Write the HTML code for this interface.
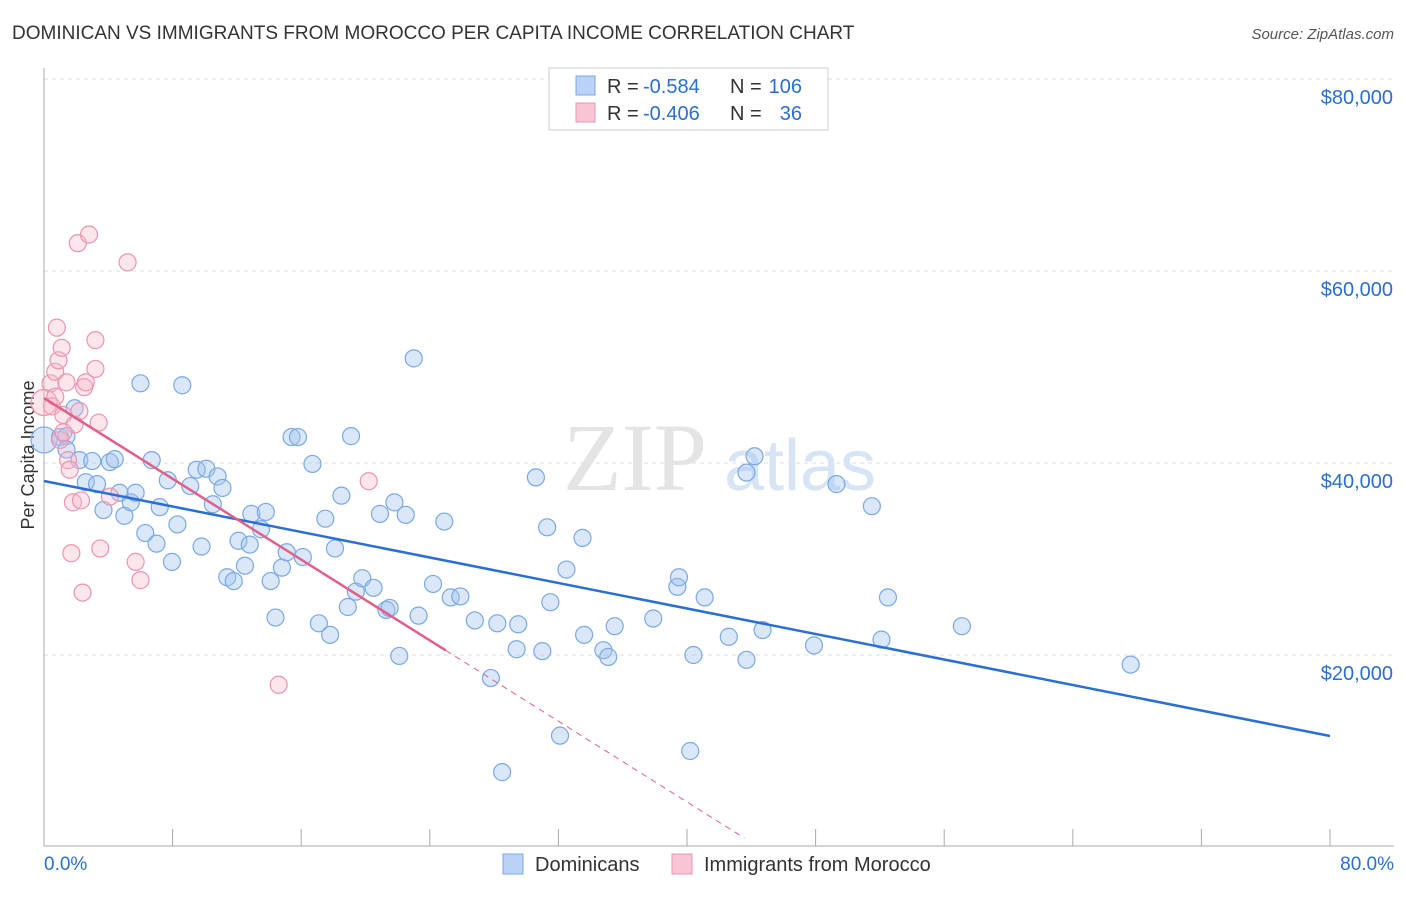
<!DOCTYPE html>
<html><head><meta charset="utf-8"><style>
body{margin:0;background:#fff;font-family:"Liberation Sans",sans-serif;}
</style></head><body>
<svg id="chart" width="1406" height="892" xmlns="http://www.w3.org/2000/svg">
<text x="12" y="39" font-size="19" fill="#333">DOMINICAN VS IMMIGRANTS FROM MOROCCO PER CAPITA INCOME CORRELATION CHART</text>
<text x="1394" y="39" font-size="15" fill="#555" font-style="italic" text-anchor="end">Source: ZipAtlas.com</text>
<g id="grid"></g>
<text x="635" y="490" font-size="96" fill="#e4e4e4" font-family="Liberation Serif" text-anchor="middle">ZIP</text>
<text x="800" y="490" font-size="72" fill="#d6e4f6" text-anchor="middle">atlas</text>
<text transform="translate(34,455) rotate(-90)" font-size="18" fill="#333" text-anchor="middle">Per Capita Income</text>
<g id="marks"></g>
<g>
<rect x="549" y="68" width="279" height="62" fill="#fff" stroke="#ccc"/>
<rect x="576" y="76" width="19" height="19" fill="#b9d2f5" stroke="#7aa8e8"/>
<text x="607" y="93" font-size="20" fill="#333">R =</text>
<text x="643" y="93" font-size="20" fill="#2a6fd6">-0.584</text>
<text x="730" y="93" font-size="20" fill="#333">N =</text>
<text x="802" y="93" font-size="20" fill="#2a6fd6" text-anchor="end">106</text>
<rect x="576" y="103" width="19" height="19" fill="#f9c4d3" stroke="#ec94ad"/>
<text x="607" y="120" font-size="20" fill="#333">R =</text>
<text x="643" y="120" font-size="20" fill="#2a6fd6">-0.406</text>
<text x="730" y="120" font-size="20" fill="#333">N =</text>
<text x="802" y="120" font-size="20" fill="#2a6fd6" text-anchor="end">36</text>
</g>
<g>
<rect x="503" y="854" width="20" height="20" fill="#b9d2f5" stroke="#7aa8e8"/>
<text x="535" y="871" font-size="20" fill="#333">Dominicans</text>
<rect x="672" y="854" width="20" height="20" fill="#f9c4d3" stroke="#ec94ad"/>
<text x="704" y="871" font-size="20" fill="#333">Immigrants from Morocco</text>
</g>
</svg>
<script>
const yTicks=[20000,40000,60000,80000];
const yTickLabels=["$20,000","$40,000","$60,000","$80,000"];
const xTickLabels=["0.0%","80.0%"];
const blueX=[0,1.0,1.4,1.4,1.9,2.2,3.0,2.6,3.3,3.7,4.1,4.4,4.7,5.0,5.4,5.7,6.0,6.3,6.7,7.0,7.2,7.7,7.96,8.3,8.6,9.1,9.5,9.8,10.1,10.5,10.8,11.1,11.4,11.8,12.1,12.5,12.8,12.9,13.5,13.8,14.1,14.4,14.8,15.1,15.4,15.8,16.1,16.7,17.1,17.5,17.8,18.1,18.5,18.9,19.1,19.4,19.8,20.5,20.9,21.3,21.5,21.8,22.1,22.5,23.0,23.3,24.2,24.9,25.3,25.9,26.8,27.8,28.2,28.5,29.4,29.5,30.6,31.0,31.3,31.5,32.1,32.5,33.5,33.6,34.8,35.1,35.5,37.9,39.4,39.5,40.2,40.4,41.1,42.6,43.7,43.7,44.2,44.7,47.9,49.3,51.5,52.1,52.5,57.1,67.6];
const blueY=[42.4,42.7,42.8,41.4,45.7,40.3,40.2,38.0,37.8,35.1,40.1,40.4,36.9,34.5,35.9,36.9,48.3,32.7,40.3,31.6,35.4,38.2,29.7,33.6,48.1,37.6,39.3,31.3,39.4,35.7,38.6,37.4,28.1,27.7,31.9,29.3,31.5,34.7,33.1,34.9,27.7,23.9,29.1,30.7,42.7,42.7,30.2,39.9,23.3,34.2,22.1,31.1,36.6,25.0,42.8,26.6,28.0,27.0,34.7,24.7,24.9,35.9,19.9,34.6,50.9,24.1,27.4,33.9,26.0,26.1,23.6,17.6,23.3,7.8,20.6,23.2,38.5,20.4,33.3,25.5,11.6,28.9,32.2,22.1,20.5,19.8,23.0,23.8,27.1,28.1,10.0,20.0,26.0,21.9,19.5,39.0,40.7,22.6,21.0,37.8,35.5,21.6,26.0,23.0,19.0];
const pinkX=[0,0.4,0.5,0.7,0.8,0.9,1.1,1.2,1.4,1.5,1.6,1.7,1.8,1.9,2.1,2.2,2.3,2.4,2.5,2.6,2.8,3.2,3.2,3.4,3.5,4.1,5.2,5.7,6.0,1.0,1.2,20.2,14.6,0.7];
const pinkY=[46.3,48.3,45.9,49.5,54.1,50.7,52.0,45.0,48.4,40.3,39.3,30.6,35.9,44.0,62.9,45.4,36.1,26.5,47.9,48.4,63.8,52.8,49.8,44.2,31.1,36.5,60.9,29.7,27.8,42.4,43.2,38.1,16.9,46.9];
const blueFit=[38125,11563];
const pinkFit=[46770,-1052];
const NS="http://www.w3.org/2000/svg";
const sx=v=>44+(v/80)*1286;
const sy=v=>847-v*192/20000;
function el(t,a,p){const e=document.createElementNS(NS,t);for(const k in a)e.setAttribute(k,a[k]);p.appendChild(e);return e;}
const grid=document.getElementById('grid');
const marks=document.getElementById('marks');
yTicks.forEach((t,i)=>{
 const l=el('line',{x1:44,y1:sy(t),x2:1394,y2:sy(t),stroke:'#ddd','stroke-dasharray':'4,4'},grid);
 
 
 const tx=el('text',{x:1393,y:sy(t)+25,'font-size':20,fill:'#2a6fd6','text-anchor':'end'},grid);
 tx.textContent=yTickLabels[i];
 
 
});
const ax=el('line',{x1:44,y1:68,x2:44,y2:846,stroke:'#aaa'},grid);


const bx=el('line',{x1:44,y1:846,x2:1394,y2:846,stroke:'#aaa'},grid);


for(let i=0;i<=10;i++){const tk=el('line',{x1:sx(i*8),y1:829,x2:sx(i*8),y2:846,stroke:'#aaa'},grid);
 
 }
const xl0=el('text',{x:44,y:870,'font-size':19,fill:'#2a6fd6'},grid);xl0.textContent=xTickLabels[0];


const xl1=el('text',{x:1394,y:870,'font-size':19,fill:'#2a6fd6','text-anchor':'end'},grid);xl1.textContent=xTickLabels[1];


blueX.forEach((x,i)=>{const c=el('circle',{cx:sx(x),cy:sy(blueY[i]*1000),r:i==0?13:8.5,fill:'rgba(160,195,240,0.4)',stroke:'#7aa8e8','stroke-width':1.2},marks);
 
 });
pinkX.forEach((x,i)=>{const c=el('circle',{cx:sx(x),cy:sy(pinkY[i]*1000),r:i==0?13:8.5,fill:'rgba(248,180,200,0.35)',stroke:'#ec94ad','stroke-width':1.2},marks);
 
 });
const bl=el('line',{x1:sx(0),y1:sy(blueFit[0]),x2:sx(80),y2:sy(blueFit[1]),stroke:'#2a6fd6','stroke-width':2.5},marks);


const pe=25;
const pl=el('line',{x1:sx(0),y1:sy(pinkFit[0]),x2:sx(pe),y2:sy(pinkFit[0]+pinkFit[1]*pe),stroke:'#e0608a','stroke-width':2.5},marks);


const pz=pinkFit[0]/-pinkFit[1];
const pd=el('line',{x1:sx(pe),y1:sy(pinkFit[0]+pinkFit[1]*pe),x2:sx(pz*0.98),y2:sy(pinkFit[0]+pinkFit[1]*pz*0.98),stroke:'#e0608a','stroke-width':1,'stroke-dasharray':'6,5'},marks);


</script>
</body></html>
